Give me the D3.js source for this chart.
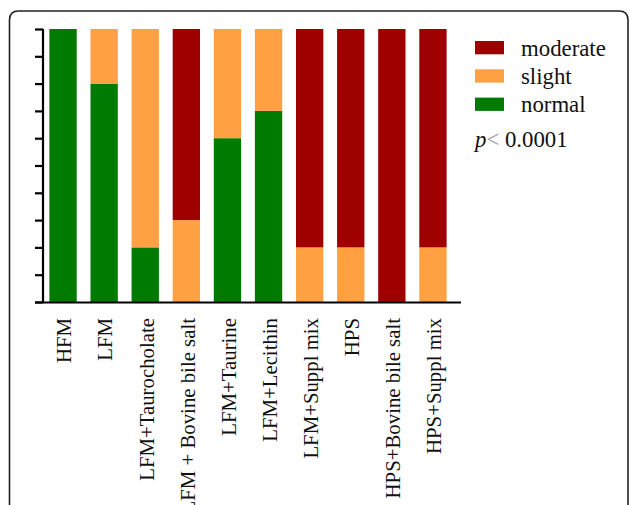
<!DOCTYPE html>
<html>
<head>
<meta charset="utf-8">
<script src="https://cdn.jsdelivr.net/npm/d3@7"></script>
<style>
  html, body { margin: 0; padding: 0; background: #fff; }
  svg { display: block; }
  text { font-family: "Liberation Serif", "Times New Roman", serif; fill: #111; }
</style>
</head>
<body>
<svg id="chart" width="630" height="505"></svg>
<script>
// Groups on the x axis
const categories = [
  "HFM", "LFM", "LFM+Taurocholate", "LFM + Bovine bile salt", "LFM+Taurine",
  "LFM+Lecithin", "LFM+Suppl mix", "HPS", "HPS+Bovine bile salt", "HPS+Suppl mix"
];
// Percentage of animals per score, one array per series
const normal   = [100, 80, 20,  0, 60, 70,  0,  0,   0,  0];
const slight   = [  0, 20, 80, 30, 40, 30, 20, 20,   0, 20];
const moderate = [  0,  0,  0, 70,  0,  0, 80, 80, 100, 80];
const seriesNames = ["normal", "slight", "moderate"];
const seriesColors = ["#007a00", "#ffa042", "#9e0000"];
const yTicks = [0, 10, 20, 30, 40, 50, 60, 70, 80, 90, 100];
const pLabel = "0.0001";

const svg = d3.select("#chart");

// Panel frame with rounded top corners
const fx0 = 9.5, fy0 = 11, fx1 = 628, r = 9;
svg.append("path")
  .attr("d", `M${fx0},505 L${fx0},${fy0 + r} Q${fx0},${fy0} ${fx0 + r},${fy0} L${fx1 - r},${fy0} Q${fx1},${fy0} ${fx1},${fy0 + r} L${fx1},505`)
  .attr("fill", "none").attr("stroke", "#222").attr("stroke-width", 1.6);

const rows = categories.map((c, i) => ({
  cat: c, normal: normal[i], slight: slight[i], moderate: moderate[i]
}));

const x = d3.scaleBand().domain(categories).range([42.5, 453.5]).paddingInner(0.335).paddingOuter(0.335 / 2);
const y = d3.scaleLinear().domain([0, 100]).range([302, 29]);

const stack = d3.stack().keys(seriesNames);
const layers = stack(rows);

svg.append("g").selectAll("g")
  .data(layers)
  .join("g")
  .attr("fill", (d, i) => seriesColors[i])
  .selectAll("rect")
  .data(d => d)
  .join("rect")
  .attr("x", d => x(d.data.cat))
  .attr("width", x.bandwidth())
  .attr("y", d => y(d[1]))
  .attr("height", d => y(d[0]) - y(d[1]));

// Y axis: ticks only, no labels
const yAxis = svg.append("g")
  .attr("transform", "translate(43,0)")
  .call(d3.axisLeft(y).tickValues(yTicks).tickSize(8).tickFormat("").tickSizeOuter(0));
yAxis.selectAll("path, line").attr("stroke", "#000").attr("stroke-width", 2.2);
yAxis.select(".domain").attr("d", `M0,${y(100)}V${y(0)}`);

// X axis baseline
svg.append("line")
  .attr("x1", 35).attr("x2", 461)
  .attr("y1", y(0) + 0.5).attr("y2", y(0) + 0.5)
  .attr("stroke", "#000").attr("stroke-width", 2.2);

// Rotated category labels
svg.append("g").selectAll("text")
  .data(categories)
  .join("text")
  .attr("transform", d => `translate(${x(d) + x.bandwidth() / 2 + 1},318) rotate(-90)`)
  .attr("text-anchor", "end")
  .attr("dy", "0.35em")
  .attr("font-size", 20.8)
  .text(d => d);

// Legend, top series first
const legendOrder = ["moderate", "slight", "normal"];
const lg = svg.append("g").attr("transform", "translate(475,41)");
legendOrder.forEach((name, i) => {
  const g = lg.append("g").attr("transform", `translate(0,${i * 28.3})`);
  g.append("rect").attr("width", 29).attr("height", 13.3)
    .attr("fill", seriesColors[seriesNames.indexOf(name)]);
  g.append("text").attr("x", 46).attr("y", 6.7).attr("dy", "0.35em")
    .attr("font-size", 22.8).text(name);
});

// Significance note
const pt = svg.append("text").attr("x", 475).attr("y", 147).attr("font-size", 22.8);
pt.append("tspan").attr("font-style", "italic").text("p");
pt.append("tspan").attr("fill", "#999").text("<");
pt.append("tspan").text(" " + pLabel);
</script>
</body>
</html>
